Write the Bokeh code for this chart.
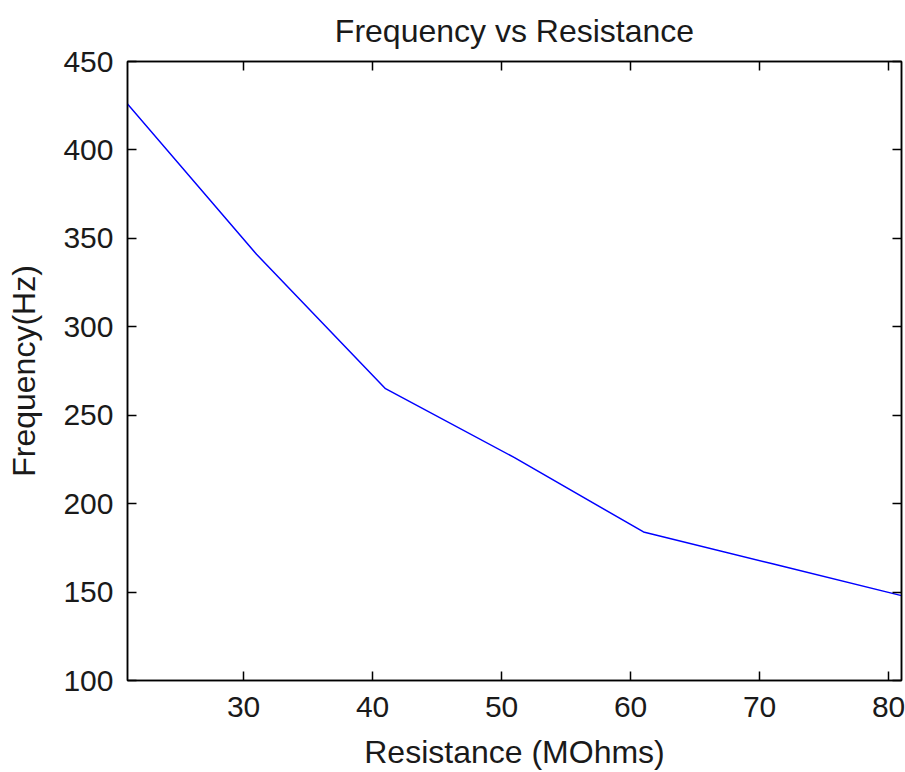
from bokeh.plotting import figure
from bokeh.models import Range1d, LinearAxis, FixedTicker, CustomJSTickFormatter
from bokeh.embed import file_html
from bokeh.resources import INLINE

# Data
resistance = [21, 31, 41, 51, 61, 71, 81]          # MOhms
frequency = [426, 341, 265, 226, 184, 166, 148]    # Hz

x_ticks = [30, 40, 50, 60, 70, 80]
y_ticks = [100, 150, 200, 250, 300, 350, 400, 450]

FONT = "Liberation Sans"
FS = "30px"
FS_LABEL = "32px"
INK = "#1a1a1a"

p = figure(width=905, height=772, output_backend="svg", toolbar_location=None,
           x_range=Range1d(21, 81), y_range=Range1d(100, 450),
           title="Frequency vs Resistance",
           min_border_left=127, min_border_right=4, min_border_top=61, min_border_bottom=90)

p.line(resistance, frequency, line_color="#0000ff", line_width=1.5)

p.grid.visible = False
p.outline_line_color = "black"
p.outline_line_width = 1.5
p.background_fill_color = "white"
p.border_fill_color = "white"

p.title.align = "center"
p.title.vertical_align = "top"
p.title.text_font = FONT
p.title.text_font_size = FS_LABEL
p.title.text_font_style = "normal"
p.title.text_color = INK
p.title.standoff = 22

def style_axis(ax, ticks):
    ax.ticker = FixedTicker(ticks=ticks, minor_ticks=[])
    ax.major_tick_in = 9
    ax.major_tick_out = 0
    ax.minor_tick_in = 0
    ax.minor_tick_out = 0
    ax.axis_line_color = "black"
    ax.axis_line_width = 1.5
    ax.major_tick_line_color = "black"
    ax.major_tick_line_width = 1.5
    ax.major_label_text_font = FONT
    ax.major_label_text_font_size = FS
    ax.major_label_text_color = INK
    ax.axis_label_text_font = FONT
    ax.axis_label_text_font_size = FS_LABEL
    ax.axis_label_text_font_style = "normal"
    ax.axis_label_text_color = INK

xa = p.xaxis[0]
ya = p.yaxis[0]
style_axis(xa, x_ticks)
style_axis(ya, y_ticks)
xa.axis_label = "Resistance (MOhms)"
ya.axis_label = "Frequency(Hz)"
xa.major_label_standoff = 16
xa.axis_label_standoff = 14
ya.major_label_standoff = 14
ya.axis_label_standoff = 18

blank = CustomJSTickFormatter(code="return '';")
top = LinearAxis()
right = LinearAxis()
for ax, t in ((top, x_ticks), (right, y_ticks)):
    style_axis(ax, t)
    ax.formatter = blank
    ax.major_label_standoff = 0
    ax.major_label_text_font_size = "0px"
p.add_layout(top, "above")
p.add_layout(right, "right")

open("out.html", "w").write(file_html(p, INLINE))
